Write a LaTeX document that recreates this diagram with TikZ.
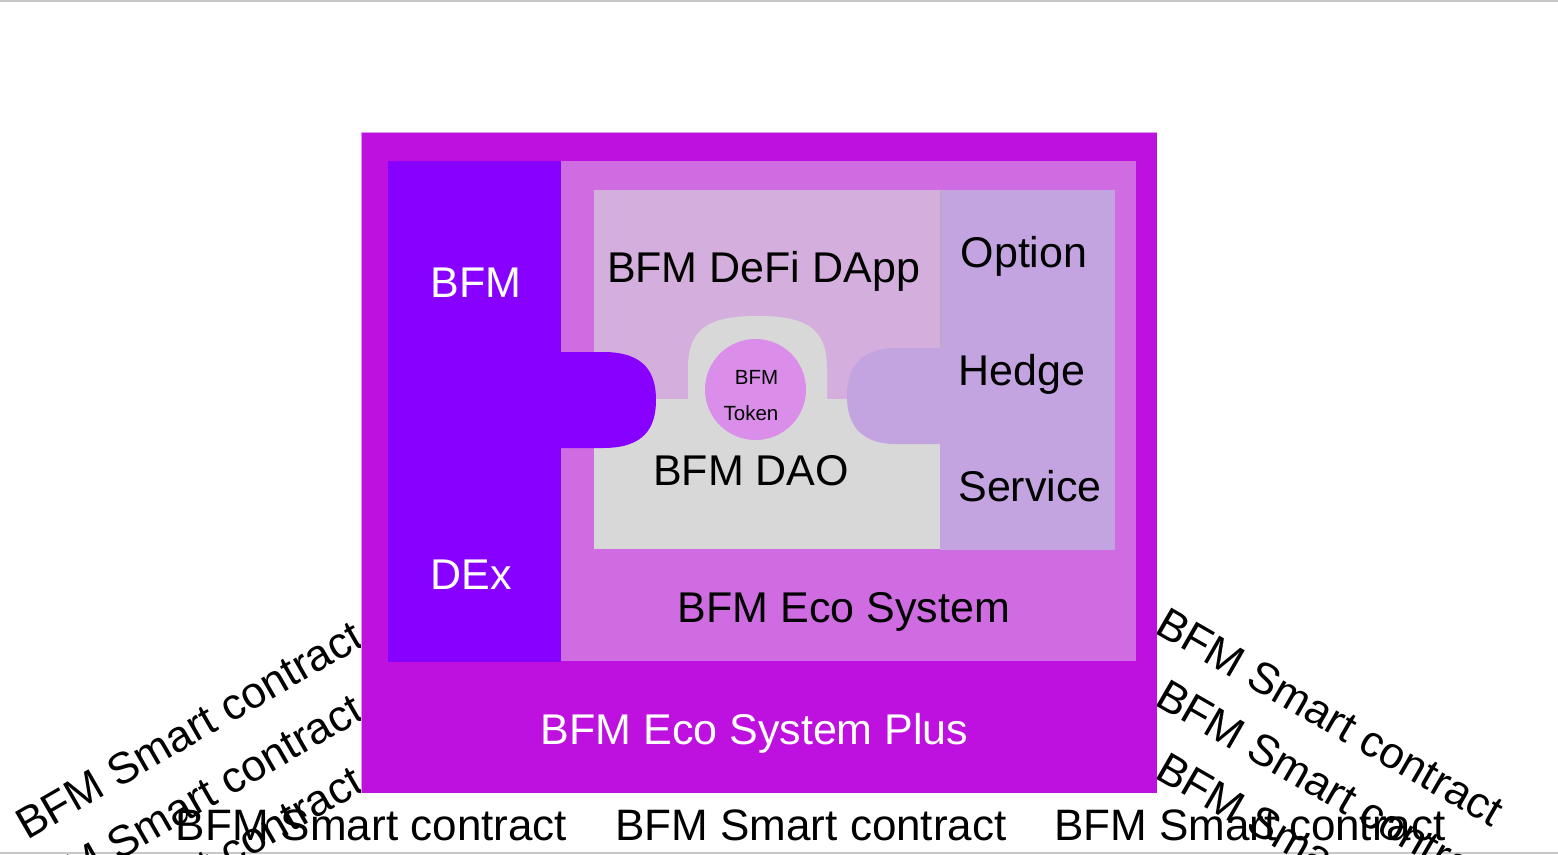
\documentclass[tikz,border=0pt]{standalone}
\usepackage{fontspec}
\setmainfont{Liberation Sans}
\definecolor{outerc}{HTML}{BE10DE}
\definecolor{dexc}{HTML}{8800FF}
\definecolor{ecoc}{HTML}{D06CE2}
\definecolor{defic}{HTML}{D4AEDC}
\definecolor{daoc}{HTML}{D8D8D8}
\definecolor{optc}{HTML}{C4A4E0}
\definecolor{tokc}{HTML}{DA8EEA}
\definecolor{framec}{HTML}{C8C8C8}
\tikzset{
  lbl/.style={inner sep=0pt, anchor=base, font=\fontsize{43}{50}\selectfont},
  wlbl/.style={lbl, text=white},
  sclbl/.style={inner sep=0pt, font=\fontsize{44}{50}\selectfont},
  small/.style={inner sep=0pt, anchor=base, font=\fontsize{20.5}{24}\selectfont},
}
\begin{document}
\begin{tikzpicture}[x=1pt,y=-1pt]
\useasboundingbox (0,0) rectangle (1558,854);
% frame lines
\draw[framec, line width=2pt] (0,1) -- (1558,1);
\draw[framec, line width=2pt] (0,853) -- (1558,853);

% rotated smart contract labels (behind the box)
\node[sclbl, anchor=base east, rotate=30] (scl1) at (366,645) {BFM Smart contract};
\node[sclbl, anchor=base east, rotate=30] (scl2) at (366,718) {BFM Smart contract};
\node[sclbl, anchor=base east, rotate=30] (scl3) at (366,790) {BFM Smart contract};
\node[sclbl, anchor=base west, rotate=-30] (scr1) at (1153,632) {BFM Smart contract};
\node[sclbl, anchor=base west, rotate=-30] (scr2) at (1153,704) {BFM Smart contract};
\node[sclbl, anchor=base west, rotate=-30] (scr3) at (1153,777) {BFM Smart contract};

% outer box
\fill[outerc] (361,132) rectangle (1157,793);
\draw[ecoc!70!white, line width=0.8pt] (361.4,793) -- (361.4,132.4) -- (1157,132.4);
% DEx column
\fill[dexc] (388,161) rectangle (561,662);
% Eco system
\fill[ecoc] (561,161) rectangle (1136,661);
% DeFi DApp
\fill[defic] (594,190) rectangle (940,400);
% DAO
\fill[daoc] (594,399) rectangle (940,549);
\fill[daoc] (688,400) -- (688,368) .. controls (688,326) and (712,316) .. (757,316)
  .. controls (803,316) and (827,326) .. (827,368) -- (827,400) -- cycle;
% right column
\fill[optc] (940,190) rectangle (1115,550);
\draw[black!30, line width=0.8pt] (940.5,190) -- (940.5,349);
% puzzle tabs
\fill[dexc] (560,352) -- (603,352) .. controls (644,352) and (656,372) .. (656,400)
  .. controls (656,428) and (644,448) .. (603,448) -- (560,448) -- cycle;
\fill[optc] (941,348) -- (896,348) .. controls (858,348) and (847,370) .. (847,396)
  .. controls (847,422) and (858,444) .. (896,444) -- (941,444) -- cycle;
% token
\fill[tokc] (755.5,389.5) circle (50.5);

% labels
\node[wlbl] (bfm) at (476,297) {BFM};
\node[wlbl] (dex) at (471,589) {DEx};
\node[lbl] (defi) at (763.5,282) {BFM DeFi DApp};
\node[lbl] (opt) at (1024,267) {Option};
\node[lbl] (hedge) at (1022,385) {Hedge};
\node[lbl] (serv) at (1030,501) {Service};
\node[lbl] (dao) at (751,485) {BFM DAO};
\node[lbl] (eco) at (844,622) {BFM Eco System};
\node[wlbl] (plus) at (754.5,744) {BFM Eco System Plus};
\node[small] (tok1) at (756.5,384) {BFM};
\node[small] (tok2) at (751,420) {Token};

% bottom labels
\node[sclbl, anchor=base] (sc1) at (371.5,840) {BFM Smart contract};
\node[sclbl, anchor=base] (sc2) at (811,840) {BFM Smart contract};
\node[sclbl, anchor=base] (sc3) at (1250,840) {BFM Smart contract};
\end{tikzpicture}
\end{document}
